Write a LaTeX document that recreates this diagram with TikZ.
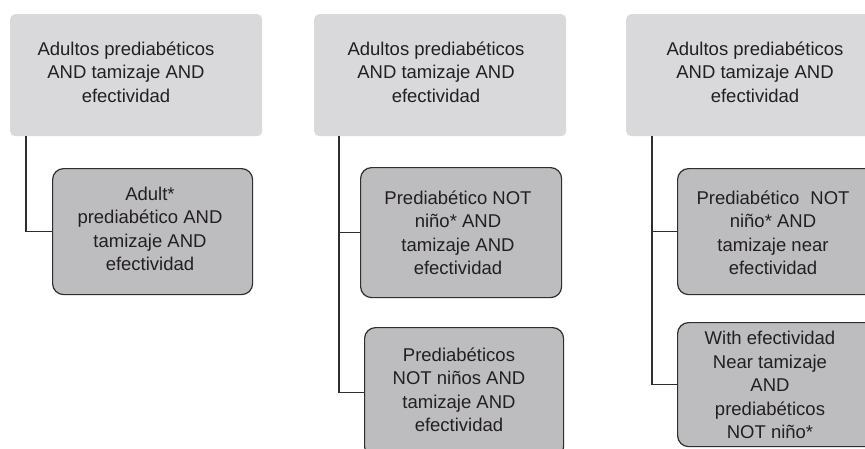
\documentclass[tikz,border=0pt]{standalone}
\usepackage{fontspec}
\setmainfont{Liberation Sans}
\definecolor{topgray}{HTML}{D9D9DB}
\definecolor{childgray}{HTML}{BDBDC0}
\definecolor{boxline}{HTML}{2E2E2E}
\definecolor{textgray}{HTML}{231F20}
\tikzset{
  topbox/.style={fill=topgray, rounded corners=5pt, inner sep=0pt, anchor=north west, minimum height=122pt},
  childbox/.style={draw=boxline, line width=1.2pt, fill=childgray, rounded corners=11pt, inner sep=0pt, anchor=north west},
  txt/.style={align=center, inner sep=0pt, text=textgray, font=\fontsize{18.5}{23.5}\selectfont},
  conn/.style={draw=boxline, line width=1.4pt}
}
\begin{document}
\begin{tikzpicture}[x=1pt,y=-1pt]
\clip (0,0) rectangle (865,448);
\fill[white] (0,0) rectangle (865,448);
% panel 1
\node[topbox, minimum width=252pt] (t1) at (10,14) {};
\node[txt] (t1x) at (126,72) {Adultos prediabéticos\\AND tamizaje AND\\efectividad};
\node[childbox, minimum width=200pt, minimum height=126pt] (c1) at (52,168) {};
\node[txt] (c1x) at (150,229) {Adult*\\prediabético AND\\tamizaje AND\\efectividad};
\draw[conn] ([xshift=16pt]t1.south west) |- (c1.west);
% panel 2
\node[topbox, minimum width=252pt] (t2) at (314,14) {};
\node[txt] (t2x) at (436,72) {Adultos prediabéticos\\AND tamizaje AND\\efectividad};
\node[childbox, minimum width=201pt, minimum height=130pt] (c2a) at (360,167) {};
\node[txt] (c2ax) at (458,233) {Prediabético NOT\\niño* AND\\tamizaje AND\\efectividad};
\node[childbox, minimum width=199pt, minimum height=130pt] (c2b) at (364,327) {};
\node[txt] (c2bx) at (459,390) {Prediabéticos\\NOT niños AND\\tamizaje AND\\efectividad};
\coordinate (v2) at ([xshift=25pt]t2.south west);
\draw[conn] (v2) |- (c2b.west);
\draw[conn] (c2a.west) -- (c2a.west -| v2);
% panel 3
\node[topbox, minimum width=260pt] (t3) at (626,14) {};
\node[txt] (t3x) at (755,72) {Adultos prediabéticos\\AND tamizaje AND\\efectividad};
\node[childbox, minimum width=200pt, minimum height=126pt] (c3a) at (677,168) {};
\node[txt] (c3ax) at (773,233) {Prediabético\hspace{0.6em}NOT\\niño* AND\\tamizaje near\\efectividad};
\node[childbox, minimum width=200pt, minimum height=124pt] (c3b) at (677,322) {};
\node[txt] (c3bx) at (770,385) {With efectividad\\Near tamizaje\\AND\\prediabéticos\\NOT niño*};
\coordinate (v3) at ([xshift=26pt]t3.south west);
\draw[conn] (v3) |- (c3b.west);
\draw[conn] (c3a.west) -- (c3a.west -| v3);
\end{tikzpicture}
\end{document}
